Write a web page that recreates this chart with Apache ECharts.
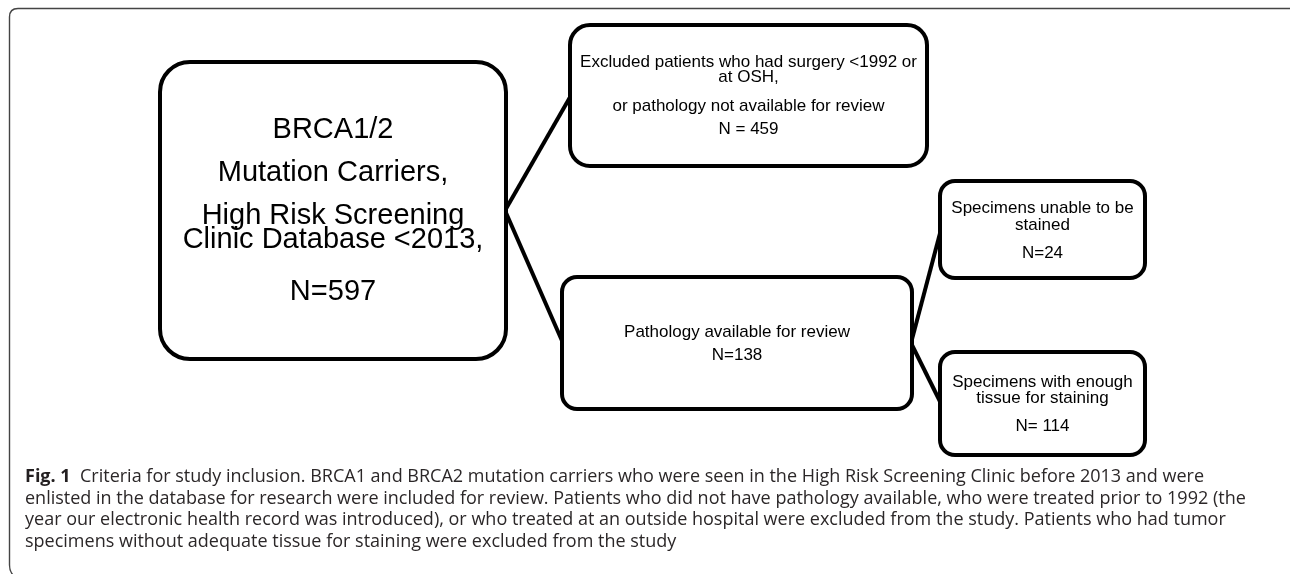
<!DOCTYPE html>
<html>
<head>
<meta charset="utf-8">
<script src="https://cdn.jsdelivr.net/npm/echarts@6/dist/echarts.min.js"></script>
<style>
html,body{margin:0;padding:0;background:#fff;}
#chart{width:1290px;height:574px;}
</style>
</head>
<body>
<div id="chart"></div>
<script>
// ---- data ----
const nodeTextLines = [
  ['BRCA1/2', 'Mutation Carriers,', 'High Risk Screening', 'Clinic Database <2013,'],
  ['Excluded patients who had surgery <1992 or', 'at OSH,', 'or pathology not available for review'],
  ['Pathology available for review'],
  ['Specimens unable to be', 'stained'],
  ['Specimens with enough', 'tissue for staining']
];
const nodeCounts = [597, 459, 138, 24, 114];
const countPrefix = ['N=', 'N = ', 'N=', 'N=', 'N= '];
const links = [[0, 1], [0, 2], [2, 3], [2, 4]];
const captionLines = [
  'Criteria for study inclusion. BRCA1 and BRCA2 mutation carriers who were seen in the High Risk Screening Clinic before 2013 and were',
  'enlisted in the database for research were included for review. Patients who did not have pathology available, who were treated prior to 1992 (the',
  'year our electronic health record was introduced), or who treated at an outside hospital were excluded from the study. Patients who had tumor',
  'specimens without adequate tissue for staining were excluded from the study'
];
const captionLabel = 'Fig. 1';

// ---- layout (positions / sizes / styles) ----
const boxRect = [
  [160, 62, 506, 359],
  [570, 25, 927, 166],
  [562, 277, 912, 409],
  [940, 181, 1145, 278],
  [940, 352, 1145, 455]
];
const boxRadius = [30, 20, 15, 15, 15];
const boxFont = [29, 17, 17, 17, 17];
const lineOffsets = [
  [68, 111, 154, 178, 230],
  [37, 52, 81, 104],
  [55, 78],
  [27, 44, 72],
  [30, 46, 74]
];

const chart = echarts.init(document.getElementById('chart'), null, {renderer: 'canvas'});

const boxData = nodeCounts.map((c, i) => ({value: [i, c]}));

function renderBox(params, api) {
  const i = params.dataIndex;
  const r = boxRect[i];
  const p0 = api.coord([r[0], r[1]]);
  const p1 = api.coord([r[2], r[3]]);
  const x = Math.min(p0[0], p1[0]), y = Math.min(p0[1], p1[1]);
  const w = Math.abs(p1[0] - p0[0]), h = Math.abs(p1[1] - p0[1]);
  const cx = x + w / 2;
  const lines = nodeTextLines[i].concat([countPrefix[i] + api.value(1)]);
  const children = [{
    type: 'rect',
    shape: {x: x, y: y, width: w, height: h, r: boxRadius[i]},
    style: {fill: '#fff', stroke: '#000', lineWidth: 4}
  }];
  lines.forEach((t, k) => {
    children.push({
      type: 'text',
      style: {
        text: t, x: cx, y: y + lineOffsets[i][k],
        align: 'center', verticalAlign: 'middle',
        font: boxFont[i] + 'px "Liberation Sans", Arial, sans-serif',
        fill: '#000'
      }
    });
  });
  return {type: 'group', children: children};
}

function renderLink(params, api) {
  const [a, b] = links[params.dataIndex];
  const ra = boxRect[a], rb = boxRect[b];
  const s = api.coord([ra[2] - 1, (ra[1] + ra[3]) / 2]);
  const e = api.coord([rb[0] + 1, (rb[1] + rb[3]) / 2]);
  return {
    type: 'line',
    shape: {x1: s[0], y1: s[1], x2: e[0], y2: e[1]},
    style: {stroke: '#000', lineWidth: 4}
  };
}

const capFont = '"Open Sans", "Noto Sans", sans-serif';
const capGraphics = captionLines.map((t, k) => ({
  type: 'text',
  left: 25,
  top: 468 + k * 21.5,
  style: {
    text: k === 0 ? '{b|' + captionLabel + '}  ' + t : t,
    font: '18px ' + capFont,
    fill: '#2b2728',
    rich: {b: {font: 'bold 18px ' + capFont, fill: '#231f20'}}
  }
}));

const frameStyle = {fill: null, stroke: '#444', lineWidth: 1.4};
chart.setOption({
  animation: false,
  backgroundColor: '#fff',
  grid: {left: 0, right: 0, top: 0, bottom: 0},
  xAxis: {type: 'value', min: 0, max: 1290, show: false},
  yAxis: {type: 'value', min: 0, max: 574, inverse: true, show: false},
  graphic: [
    {type: 'line', shape: {x1: 18, y1: 8.5, x2: 1292, y2: 8.5}, style: frameStyle, silent: true},
    {type: 'line', shape: {x1: 9.5, y1: 17, x2: 9.5, y2: 565}, style: frameStyle, silent: true},
    {type: 'bezierCurve', shape: {x1: 9.5, y1: 17, cpx1: 9.5, cpy1: 8.5, x2: 18, y2: 8.5}, style: frameStyle, silent: true},
    {type: 'bezierCurve', shape: {x1: 9.5, y1: 565, cpx1: 9.5, cpy1: 572, x2: 14, y2: 576}, style: frameStyle, silent: true}
  ].concat(capGraphics),
  series: [
    {
      type: 'custom',
      coordinateSystem: 'cartesian2d',
      data: links.map((l, i) => [i]),
      renderItem: renderLink,
      z: 1,
      silent: true
    },
    {
      type: 'custom',
      coordinateSystem: 'cartesian2d',
      data: boxData,
      renderItem: renderBox,
      z: 2,
      silent: true
    }
  ]
});
</script>
</body>
</html>
